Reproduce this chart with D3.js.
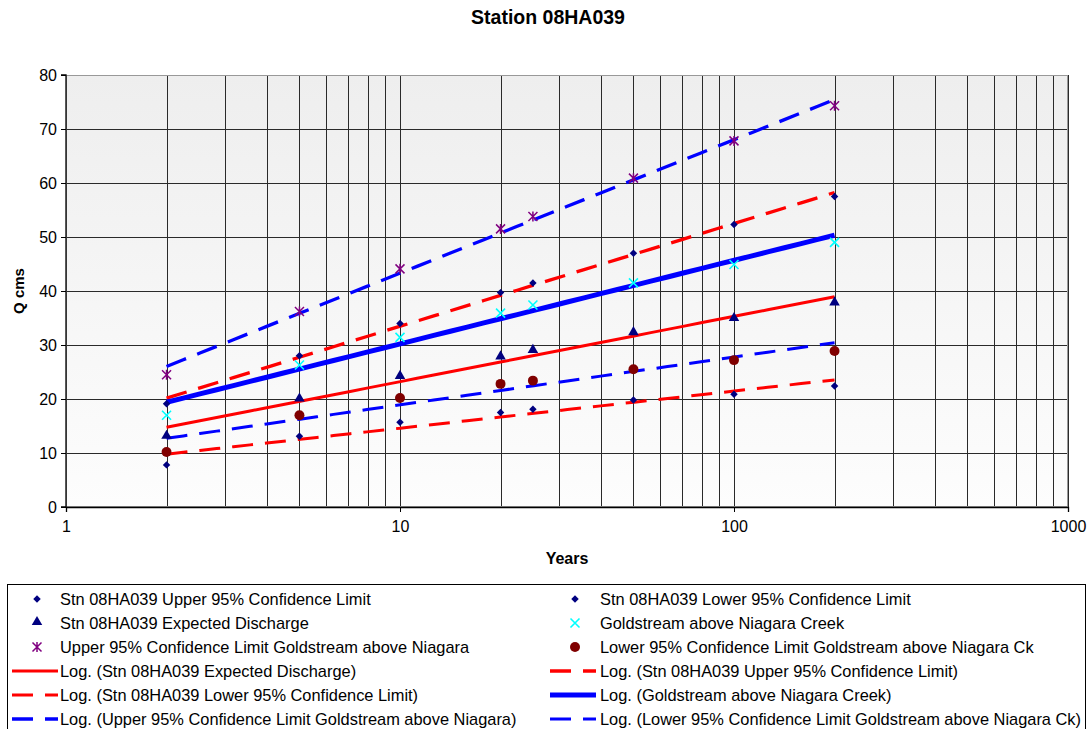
<!DOCTYPE html>
<html>
<head>
<meta charset="utf-8">
<script src="https://cdn.jsdelivr.net/npm/d3@7"></script>
<style>
  html, body { margin: 0; padding: 0; background: #fff; }
  svg { display: block; font-family: "Liberation Sans", Arial, sans-serif; }
</style>
</head>
<body>
<svg id="chart" width="1089" height="729"></svg>
<script>
// ---- Data ----
const years = [2, 5, 10, 20, 25, 50, 100, 200];
const stnUpper = [19.1, 28.0, 34.0, 39.7, 41.5, 47.0, 52.3, 57.5];
const stnLower = [7.8, 13.1, 15.7, 17.5, 18.1, 19.8, 20.9, 22.4];
const stnExpected = [13.0, 19.9, 24.1, 27.7, 28.9, 32.2, 34.8, 37.7];
const goldstream = [17.0, 26.3, 31.4, 35.9, 37.4, 41.5, 44.9, 49.0];
const goldUpper = [24.5, 36.2, 44.1, 51.5, 53.8, 60.9, 67.8, 74.3];
const goldLower = [10.2, 17.0, 20.2, 22.8, 23.4, 25.5, 27.2, 28.9];
const yTicks = [0, 10, 20, 30, 40, 50, 60, 70, 80];
const xTickLabels = [1, 10, 100, 1000];

const title = "Station 08HA039";
const xTitle = "Years";
const yTitle = "Q cms";

// ---- Layout ----
const svg = d3.select("#chart");
const L = 66, R = 1068, T = 75, B = 507;
const x = d3.scaleLog().domain([1, 1000]).range([L, R]);
const y = d3.scaleLinear().domain([0, 80]).range([B, T]);

// background gradient
const defs = svg.append("defs");
const grad = defs.append("linearGradient").attr("id", "bg").attr("x1", 0).attr("y1", 0).attr("x2", 0).attr("y2", 1);
grad.append("stop").attr("offset", "0%").attr("stop-color", "#eeeeee");
grad.append("stop").attr("offset", "100%").attr("stop-color", "#fdfdfd");
svg.append("rect").attr("x", L).attr("y", T).attr("width", R - L).attr("height", B - T).attr("fill", "url(#bg)");

// grid lines
const gridX = [];
for (let d = 1; d <= 100; d *= 10) for (let k = 1; k <= 9; k++) if (d * k > 1) gridX.push(d * k);
gridX.push(1000);
const grid = svg.append("g").attr("shape-rendering", "crispEdges");
grid.selectAll("line.gx").data(gridX).join("line")
  .attr("x1", d => Math.round(x(d)) + 0.5).attr("x2", d => Math.round(x(d)) + 0.5)
  .attr("y1", T).attr("y2", B).attr("stroke", "#2a2a2a").attr("stroke-width", 1);
grid.selectAll("line.gy").data(yTicks.filter(v => v > 0)).join("line")
  .attr("x1", L).attr("x2", R)
  .attr("y1", d => Math.round(y(d)) + 0.5).attr("y2", d => Math.round(y(d)) + 0.5)
  .attr("stroke", "#2a2a2a").attr("stroke-width", 1);

// plot border (right/top)
svg.append("rect").attr("x", L + 0.5).attr("y", T + 0.5).attr("width", R - L - 1).attr("height", B - T - 1)
  .attr("fill", "none").attr("stroke", "#999").attr("stroke-width", 1).attr("shape-rendering", "crispEdges");

// axes
const yAxis = d3.axisLeft(y).tickValues(yTicks).tickSize(5).tickPadding(4).tickFormat(d3.format("d"));
const gy = svg.append("g").attr("transform", `translate(${L},0)`).call(yAxis);
const xAxis = d3.axisBottom(x).tickValues(xTickLabels).tickSize(5).tickPadding(9).tickFormat(d3.format("d"));
const gx = svg.append("g").attr("transform", `translate(0,${B})`).call(xAxis);
[gx, gy].forEach(g => {
  g.select(".domain").attr("stroke", "#000").attr("stroke-width", 1.3);
  g.selectAll(".tick line").attr("stroke", "#000");
  g.selectAll("text").attr("font-size", 16).attr("fill", "#000").attr("font-family", "Liberation Sans, Arial, sans-serif");
});
gy.select(".domain").attr("d", `M-5,${T}H0V${B}H-5`);

// titles
svg.append("text").attr("x", 548).attr("y", 24).attr("text-anchor", "middle")
  .attr("font-size", 19.5).attr("font-weight", "bold").text(title);
svg.append("text").attr("x", 567).attr("y", 564).attr("text-anchor", "middle")
  .attr("font-size", 16).attr("font-weight", "bold").text(xTitle);
svg.append("text").attr("transform", "translate(24,291) rotate(-90)").attr("text-anchor", "middle")
  .attr("font-size", 15).attr("font-weight", "bold").text(yTitle);

// ---- Trend lines (log fit: y = a ln x + b) ----
function logFit(xs, ys) {
  const lx = xs.map(Math.log);
  const mx = d3.mean(lx), my = d3.mean(ys);
  let sxy = 0, sxx = 0;
  lx.forEach((v, i) => { sxy += (v - mx) * (ys[i] - my); sxx += (v - mx) * (v - mx); });
  const a = sxy / sxx, b = my - a * mx;
  return v => a * Math.log(v) + b;
}
const trends = [
  { name: "Log. (Stn 08HA039 Expected Discharge)", data: stnExpected, color: "#ff0000", width: 3, dash: null },
  { name: "Log. (Stn 08HA039 Upper 95% Confidence Limit)", data: stnUpper, color: "#ff0000", width: 3.3, dash: "21,12" },
  { name: "Log. (Stn 08HA039 Lower 95% Confidence Limit)", data: stnLower, color: "#ff0000", width: 3, dash: "21,12" },
  { name: "Log. (Goldstream above Niagara Creek)", data: goldstream, color: "#0000ff", width: 5, dash: null },
  { name: "Log. (Upper 95% Confidence Limit Goldstream above Niagara)", data: goldUpper, color: "#0000ff", width: 3.3, dash: "21,12" },
  { name: "Log. (Lower 95% Confidence Limit Goldstream above Niagara Ck)", data: goldLower, color: "#0000ff", width: 3, dash: "21,12" }
];
const lineGen = d3.line().x(d => x(d[0])).y(d => y(d[1]));
trends.forEach(t => {
  const f = logFit(years, t.data);
  const lo = Math.log10(years[0]), hi = Math.log10(years[years.length - 1]);
  const xs = d3.range(0, 41).map(i => Math.pow(10, lo + i / 40 * (hi - lo)));
  svg.append("path").datum(xs.map(v => [v, f(v)]))
    .attr("d", lineGen).attr("fill", "none").attr("stroke", t.color)
    .attr("stroke-width", t.width).attr("stroke-dasharray", t.dash);
});

// ---- Markers ----
const sym = {
  diamond: d3.symbol().type(d3.symbolSquare).size(28),
  triangle: d3.symbol().type(d3.symbolTriangle).size(48),
  circle: d3.symbol().type(d3.symbolCircle).size(78)
};
function drawMarker(g, kind, color) {
  if (kind === "diamond") g.append("path").attr("d", sym.diamond()).attr("fill", color).attr("transform", "rotate(45)");
  else if (kind === "triangle") g.append("path").attr("d", sym.triangle()).attr("fill", color).attr("transform", "translate(0,-1)");
  else if (kind === "circle") g.append("path").attr("d", sym.circle()).attr("fill", color);
  else if (kind === "x") {
    g.append("path").attr("d", "M-4.5,-4.5L4.5,4.5M-4.5,4.5L4.5,-4.5").attr("stroke", color).attr("stroke-width", 1.6).attr("fill", "none");
  } else if (kind === "star") {
    g.append("path").attr("d", "M-4.5,-4.5L4.5,4.5M-4.5,4.5L4.5,-4.5M0,-5L0,5").attr("stroke", color).attr("stroke-width", 1.5).attr("fill", "none");
  }
}
const series = [
  { name: "Stn 08HA039 Upper 95% Confidence Limit", data: stnUpper, kind: "diamond", color: "#000080" },
  { name: "Stn 08HA039 Lower 95% Confidence Limit", data: stnLower, kind: "diamond", color: "#000080" },
  { name: "Stn 08HA039 Expected Discharge", data: stnExpected, kind: "triangle", color: "#000080" },
  { name: "Goldstream above Niagara Creek", data: goldstream, kind: "x", color: "#00ffff" },
  { name: "Upper 95% Confidence Limit Goldstream above Niagara", data: goldUpper, kind: "star", color: "#800080" },
  { name: "Lower 95% Confidence Limit Goldstream above Niagara Ck", data: goldLower, kind: "circle", color: "#800000" }
];
series.forEach(s => {
  s.data.forEach((v, i) => {
    const g = svg.append("g").attr("transform", `translate(${x(years[i])},${y(v)})`);
    drawMarker(g, s.kind, s.color);
  });
});

// ---- Legend ----
const leg = svg.append("g");
leg.append("rect").attr("x", 7.5).attr("y", 584.5).attr("width", 1078).attr("height", 160)
  .attr("fill", "#fff").attr("stroke", "#000").attr("stroke-width", 1);
const legendItems = [
  series[0], series[1], series[2], series[3], series[4], series[5],
  trends[0], trends[1], trends[2], trends[3], trends[4], trends[5]
];
legendItems.forEach((it, i) => {
  const col = i % 2, row = Math.floor(i / 2);
  const ly = 599 + row * 24;
  const mx = col === 0 ? 37 : 575;
  const tx = col === 0 ? 60 : 600;
  if (it.kind) {
    const g = leg.append("g").attr("transform", `translate(${mx},${ly})`);
    drawMarker(g, it.kind, it.color);
  } else {
    leg.append("line").attr("x1", mx - 25).attr("x2", mx + 21).attr("y1", ly).attr("y2", ly)
      .attr("stroke", it.color).attr("stroke-width", it.width)
      .attr("stroke-dasharray", it.dash ? "21,12" : null);
  }
  leg.append("text").attr("x", tx).attr("y", ly + 6).attr("font-size", 16.4).attr("fill", "#000").text(it.name);
});
</script>
</body>
</html>
